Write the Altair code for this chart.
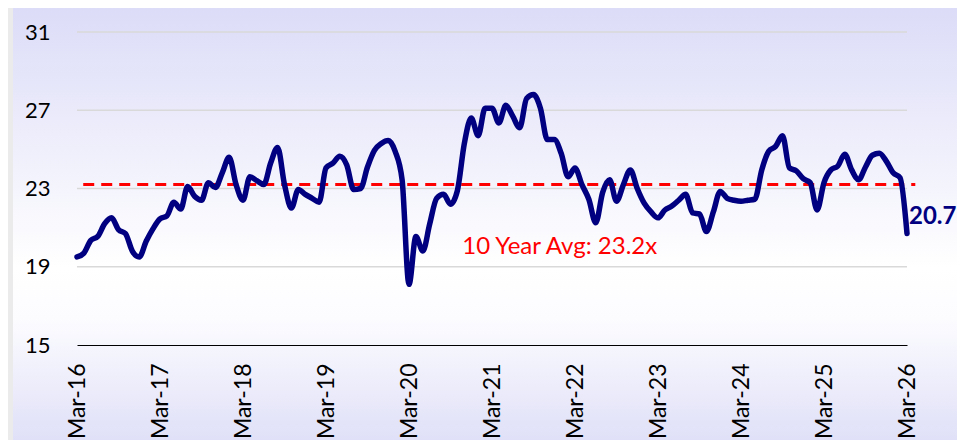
import json
import altair as alt
import pandas as pd

# Monthly P/E readings, Mar-16 .. Mar-26 (121 months)
pe_values = [
    19.5, 19.7, 20.35, 20.55, 21.2, 21.5, 20.9, 20.7, 19.8, 19.5,
    20.3, 20.95, 21.45, 21.6, 22.3, 21.95, 23.1, 22.6, 22.4, 23.3,
    23.05, 23.8, 24.6, 23.2, 22.4, 23.6, 23.4, 23.2, 24.3, 25.1,
    23.2, 22.0, 22.95, 22.7, 22.5, 22.3, 24.05, 24.3, 24.65, 24.2,
    22.95, 23.0, 24.1, 24.95, 25.3, 25.45, 24.9, 23.45, 18.1, 20.55,
    19.8, 21.2, 22.5, 22.7, 22.2, 22.9, 25.3, 26.6, 25.7, 27.1,
    27.1, 26.35, 27.25, 26.7, 26.1, 27.6, 27.8, 27.1, 25.5, 25.5,
    24.8, 23.6, 24.05, 23.2, 22.45, 21.25, 22.8, 23.45, 22.35, 23.2,
    23.95, 23.0, 22.25, 21.8, 21.5, 21.9, 22.1, 22.4, 22.7, 21.75,
    21.7, 20.8, 21.8, 22.85, 22.5, 22.4, 22.35, 22.4, 22.45, 23.95,
    24.9, 25.15, 25.7, 24.05, 23.9, 23.5, 23.3, 21.9, 23.3, 23.95,
    24.15, 24.75, 23.95, 23.45, 24.1, 24.7, 24.8, 24.4, 23.8, 23.55,
    20.7,
]
tick_months = [0, 12, 24, 36, 48, 60, 72, 84, 96, 108, 120]
tick_labels = ["Mar-16", "Mar-17", "Mar-18", "Mar-19", "Mar-20", "Mar-21",
               "Mar-22", "Mar-23", "Mar-24", "Mar-25", "Mar-26"]
y_ticks = [15, 19, 23, 27, 31]
grid_values = [19, 23, 27, 31]
avg_value = 23.2
avg_span = [0.9, 121.2]
avg_label = "10 Year Avg: 23.2x"
avg_label_pos = [55.7, 20.0]
last_label = "20.7"

W, H = 830, 313
PAD = {"left": 69, "top": 24, "right": 50, "bottom": 95}
FONT = "Lato"
NAVY = "#000080"

df = pd.DataFrame({"m": list(range(len(pe_values))), "pe": pe_values})
x_scale = alt.Scale(domain=[0, 120], nice=False, zero=False)
y_scale = alt.Scale(domain=[15, 31], nice=False, zero=False)

label_expr = json.dumps(tick_labels).replace('"', "'") + "[round(datum.value/12)]"

x_axis = alt.Axis(
    values=tick_months, labelExpr=label_expr, labelAngle=270, labelAlign="right",
    labelBaseline="middle", labelPadding=18, ticks=False, grid=False,
    domainColor="#000000", domainWidth=1.2, labelFontSize=23, labelFont=FONT,
    labelColor="#000000", title=None, zindex=1, labelOverlap=False, labelFlush=False,
)
y_axis = alt.Axis(
    values=y_ticks, ticks=False, grid=False, domain=False, labelPadding=27,
    labelFontSize=22, labelFont=FONT, labelColor="#000000", title=None, zindex=1,
)

bg = alt.Chart(pd.DataFrame({"k": [0]})).mark_rect(
    fill=alt.LinearGradient(
        gradient="linear", x1=0, y1=0, x2=0, y2=1,
        stops=[
            alt.GradientStop(color="#dcdcf8", offset=0),
            alt.GradientStop(color="#ffffff", offset=0.6),
            alt.GradientStop(color="#fcfcff", offset=0.72),
            alt.GradientStop(color="#e0e0f8", offset=1),
        ],
    )
).encode(
    x=alt.value(-PAD["left"] + 5), x2=alt.value(W + PAD["right"]),
    y=alt.value(-PAD["top"]), y2=alt.value(H + PAD["bottom"]),
)

grid = alt.Chart(pd.DataFrame({"g": grid_values})).mark_rule(
    color="#d9d9d9", strokeWidth=1.5
).encode(y=alt.Y("g:Q", scale=y_scale, axis=y_axis))

avg_rule = alt.Chart(pd.DataFrame({"x1": [avg_span[0]], "x2": [avg_span[1]], "v": [avg_value]})).mark_rule(
    color="#ff0000", strokeWidth=3, strokeDash=[11, 7]
).encode(
    x=alt.X("x1:Q", scale=x_scale, axis=x_axis), x2="x2:Q",
    y=alt.Y("v:Q", scale=y_scale, axis=y_axis),
)

line = alt.Chart(df).mark_line(
    color=NAVY, strokeWidth=5.5, interpolate="monotone", strokeCap="round", strokeJoin="round"
).encode(
    x=alt.X("m:Q", scale=x_scale, axis=x_axis),
    y=alt.Y("pe:Q", scale=y_scale, axis=y_axis),
)

avg_text = alt.Chart(pd.DataFrame({"x": [avg_label_pos[0]], "y": [avg_label_pos[1]], "t": [avg_label]})).mark_text(
    color="#ff0000", fontSize=24, font=FONT, align="left", baseline="middle"
).encode(
    x=alt.X("x:Q", scale=x_scale, axis=x_axis),
    y=alt.Y("y:Q", scale=y_scale, axis=y_axis),
    text="t:N",
)

last_text = alt.Chart(pd.DataFrame({"m": [len(pe_values) - 1], "pe": [pe_values[-1]], "t": [last_label]})).mark_text(
    color=NAVY, fontSize=24, font=FONT, fontWeight="bold", align="left", baseline="middle", dx=2, dy=-16
).encode(
    x=alt.X("m:Q", scale=x_scale, axis=x_axis),
    y=alt.Y("pe:Q", scale=y_scale, axis=y_axis),
    text="t:N",
)

chart = alt.layer(bg, grid, avg_rule, line, avg_text, last_text).properties(
    width=W, height=H,
    autosize=alt.AutoSizeParams(type="none"),
    padding=PAD,
    background="#ebebeb",
).configure_view(stroke=None)

chart.save("out.html", embed_options={"renderer": "svg", "actions": False})
